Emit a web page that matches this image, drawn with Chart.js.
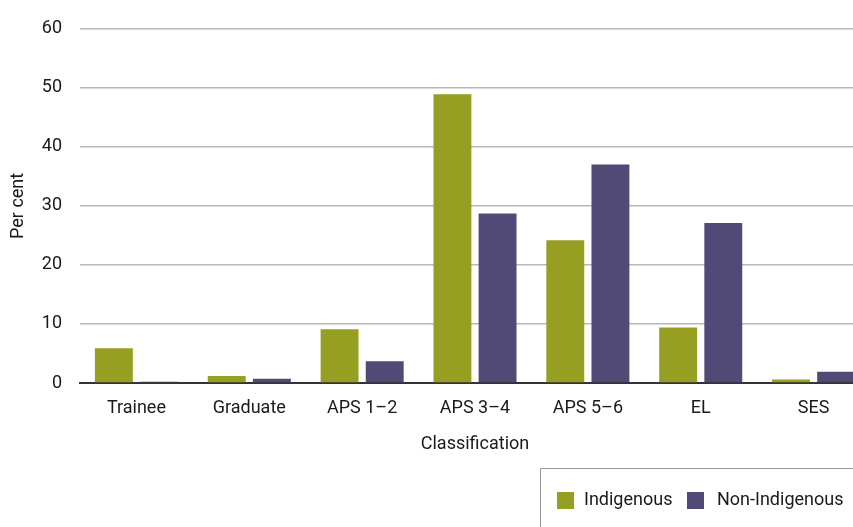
<!DOCTYPE html>
<html>
<head>
<meta charset="utf-8">
<script src="https://cdn.jsdelivr.net/npm/chart.js@4"></script>
<style>
  html, body { margin: 0; padding: 0; background: #fff; }
  #wrap { position: relative; width: 853px; height: 527px; overflow: hidden; }
  #box { position: absolute; left: 0; top: 0; width: 870px; height: 527px; }
  #legend {
    position: absolute; left: 540px; top: 468px; width: 330px; height: 80px;
    border: 1px solid #999; box-sizing: border-box;
    font-family: "Roboto", sans-serif; font-size: 18px; color: #1a1a1a;
  }
  #legend span.sw { position: absolute; top: 23px; width: 17px; height: 17px; }
  #legend span.tx { position: absolute; top: 19px; white-space: nowrap; }
</style>
</head>
<body>
<div id="wrap">
  <div id="box"><canvas id="chart" width="870" height="527"></canvas></div>
  <div id="legend">
    <span class="sw" style="left:16px;background:#979f22"></span>
    <span class="tx" style="left:43px">Indigenous</span>
    <span class="sw" style="left:146px;background:#524a76"></span>
    <span class="tx" style="left:176px">Non-Indigenous</span>
  </div>
</div>
<script>
const categories = ['Trainee', 'Graduate', 'APS 1–2', 'APS 3–4', 'APS 5–6', 'EL', 'SES'];
const indigenous = [5.9, 1.2, 9.1, 48.9, 24.2, 9.4, 0.6];
const nonIndigenous = [0.2, 0.7, 3.7, 28.7, 37.0, 27.1, 1.9];
const yTicks = [0, 10, 20, 30, 40, 50, 60];

const font = "'Roboto', sans-serif";

const ctx = document.getElementById('chart').getContext('2d');
new Chart(ctx, {
    type: 'bar',
    data: {
        labels: categories,
        datasets: [
            {
                label: 'Indigenous',
                data: indigenous,
                backgroundColor: '#979f22',
            },
            {
                label: 'Non-Indigenous',
                data: nonIndigenous,
                backgroundColor: '#524a76',
            },
        ],
    },
    options: {
        responsive: false,
        animation: false,
        layout: { padding: { top: 15, bottom: 68, left: 4, right: 0 } },
        datasets: { bar: { categoryPercentage: 0.8, barPercentage: 0.84 } },
        scales: {
            x: {
                grid: { display: false, drawTicks: false },
                border: { color: '#333', width: 2 },
                ticks: { color: '#1a1a1a', font: { family: font, size: 18 }, padding: 15, maxRotation: 0 },
                title: { display: true, text: 'Classification', color: '#1a1a1a', font: { family: font, size: 18 } },
                afterFit: (s) => { s.height = 76; },
            },
            y: {
                min: 0,
                max: 60,
                afterBuildTicks: (s) => { s.ticks = yTicks.map(v => ({ value: v })); },
                grid: { color: '#b8b8b8', lineWidth: 1.5, drawTicks: false },
                border: { display: false },
                ticks: { color: '#1a1a1a', font: { family: font, size: 18 }, padding: 18 },
                title: { display: true, text: 'Per cent', color: '#1a1a1a', font: { family: font, size: 18 } },
                afterFit: (s) => { s.width = 76; },
            },
        },
        plugins: {
            legend: { display: false },
            tooltip: { enabled: false },
        },
    },
});
</script>
</body>
</html>
